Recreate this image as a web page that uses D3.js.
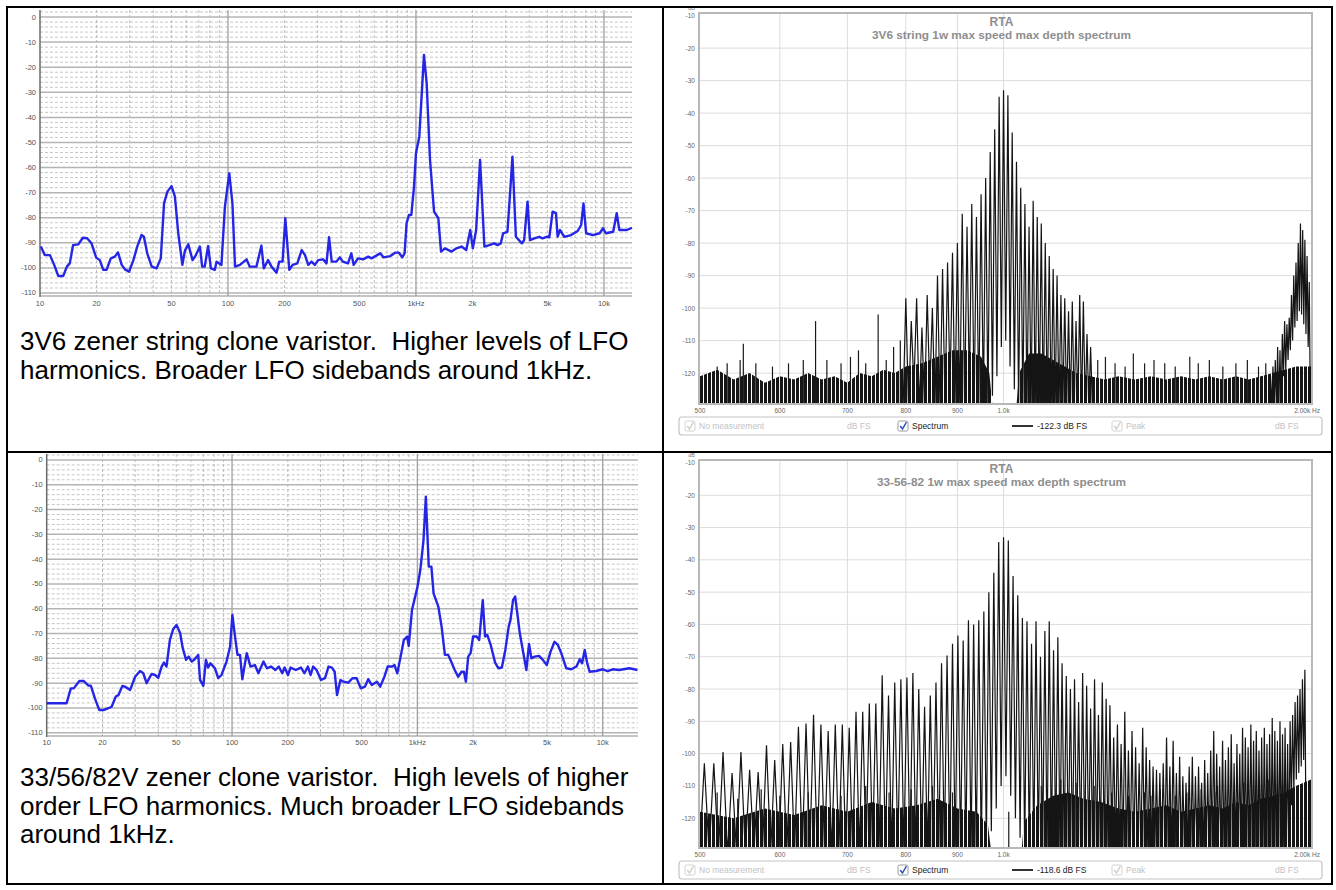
<!DOCTYPE html>
<html>
<head>
<meta charset="utf-8">
<script src="https://cdn.jsdelivr.net/npm/d3@7"></script>
<style>
  body { margin: 0; background: #fff; }
  svg { display: block; font-family: "Liberation Sans", Arial, sans-serif; }
</style>
</head>
<body>
<svg id="page" width="1336" height="890"></svg>
<script>
// ---- left column: blue log-frequency spectra, [Hz, dB] ----
const zener3v6 = [[10.1,-91.5],[10.6,-94.9],[11.3,-94.9],[12,-99.5],[12.5,-103.2],[13.3,-103.2],[13.9,-99.5],[14.4,-98.2],[15,-90.9],[16,-90.6],[16.9,-88],[17.8,-88.2],[18.8,-90.2],[19.9,-95.9],[20.8,-96.9],[21.7,-100.8],[22.6,-100.8],[23.8,-96.2],[25,-95.5],[26,-93.8],[27.2,-98.8],[28.3,-100.6],[29.8,-101.5],[31.4,-96.9],[32.9,-91.5],[34.7,-86.9],[35.7,-87.6],[37.2,-94.2],[39.3,-99.5],[41.7,-100.2],[43.9,-96.2],[45.7,-74.3],[47.6,-69.6],[50.1,-67.4],[52.2,-71.6],[54.4,-86.2],[57.2,-98.8],[59,-93.1],[61.5,-90.6],[64.8,-96.9],[67.5,-94.9],[70.9,-91.5],[72.9,-99.5],[75.2,-99.5],[78.4,-91.3],[81.1,-100.2],[85.1,-100.8],[86.9,-97.5],[92.3,-98.8],[96.3,-75.6],[101.6,-62.3],[105.6,-74.3],[109,-99.5],[115.8,-98.8],[125.6,-96.6],[130.6,-99.5],[141.7,-99.5],[150.6,-91.1],[155,-100.2],[163.4,-96.9],[170.4,-99.5],[181.3,-101.9],[187.2,-97.5],[195.2,-97.5],[201.8,-80.2],[211.9,-100.8],[220.9,-98.8],[233.8,-98.2],[246.7,-92.9],[256.8,-94.9],[267.3,-98.8],[278.4,-97.5],[289.9,-98.8],[301.8,-96.9],[320.9,-96.6],[334.2,-98.2],[344.9,-87.8],[356.3,-97.5],[377.6,-97.5],[393.2,-95.8],[408.5,-97.5],[434.9,-98.2],[453.1,-94.2],[466.3,-98.8],[491.5,-96.2],[523.2,-96.6],[556.8,-95.5],[580.5,-96.2],[645.1,-94.2],[672.3,-95.8],[730.6,-95.3],[777.5,-93.9],[810.6,-93.9],[845.2,-95.8],[869.8,-94.2],[891.5,-82.2],[917.5,-78.9],[944.9,-78.9],[976.4,-67.6],[1000,-54.3],[1041.6,-47.7],[1103,-15.1],[1140,-26.4],[1188,-57],[1248,-77.6],[1315,-80.2],[1359,-93.5],[1426,-92.2],[1547,-93.5],[1643,-92.2],[1745,-91.5],[1852,-92.9],[1944,-84.9],[2007,-92.2],[2090,-84.9],[2193,-57],[2312,-91.5],[2455,-90.9],[2605,-90.2],[2714,-90.9],[2827,-90.2],[2909,-86.2],[3067,-85.6],[3158,-71.6],[3260,-55.7],[3400,-87.6],[3659,-90.2],[3763,-88.9],[3922,-73.6],[4040,-88.9],[4259,-88.2],[4527,-87.6],[4716,-88.2],[4953,-87.6],[5120,-87.8],[5332,-77.6],[5558,-78.2],[5667,-87.6],[5836,-84.9],[6155,-87.6],[6683,-86.9],[7252,-85.3],[7563,-82.9],[7782,-74.3],[8040,-86.2],[8730,-86.9],[9488,-86.2],[9890,-84.2],[10230,-86.2],[11200,-85.6],[11690,-78.2],[12080,-84.9],[13240,-84.9],[14100,-84]];

const zener335682 = [[10,-98.1],[12.8,-98.1],[13.5,-92.1],[14,-92.1],[15,-89.1],[15.8,-89.1],[16.8,-91],[17.3,-91],[18.2,-96.1],[19.2,-100.8],[20.4,-100.8],[21.5,-100.1],[22.4,-99.5],[23.6,-95.4],[24.4,-94.8],[25.6,-91.1],[26.4,-91.4],[28.2,-92.7],[30,-87.4],[31.9,-85.1],[33.2,-86],[34.6,-90],[36.8,-86.3],[38.4,-86.7],[40,-87.8],[41.7,-83.3],[42.9,-81.7],[44.3,-83.3],[46.2,-72.6],[48.1,-68.3],[50.2,-66.5],[52.5,-69.9],[54.2,-75.9],[56.5,-80.6],[58.3,-79.3],[60.6,-81.3],[62.5,-80.6],[65.7,-78.6],[67.2,-88.7],[70,-91.1],[72.3,-80.6],[74.3,-83.7],[76.4,-82],[80.9,-84],[84.2,-88],[87.7,-86.7],[93.4,-81.3],[97.6,-75.3],[100.4,-62.5],[103.8,-71.2],[107,-78.6],[110.4,-78.6],[113.6,-88.4],[120,-77.9],[125.8,-83.3],[132.9,-82.7],[138.7,-86],[147.8,-81.3],[154.3,-84],[162.1,-83.3],[171.3,-84.7],[178.7,-83.3],[186.5,-86],[192.2,-83.7],[200.3,-86.7],[206.9,-83.7],[220.7,-84.7],[235.5,-83.7],[245.8,-86],[256.6,-83.3],[265.4,-86.7],[273.9,-83.3],[285.7,-84.7],[301.9,-88.7],[317.5,-88],[331.5,-83.3],[345.6,-83.7],[357.9,-85.4],[368.4,-94.8],[384.6,-88.7],[398.7,-89.4],[424,-89.8],[446,-88],[470,-88],[495,-92.1],[521,-91.4],[543,-88.4],[567,-90.7],[605,-89.4],[630,-91.4],[664,-87.4],[691,-83.3],[731,-83.3],[753,-82.7],[779,-86],[812,-79.3],[845,-72.6],[881,-71.2],[898,-75],[935,-60.5],[973,-55.1],[1001,-51.1],[1037,-44.4],[1079,-32.3],[1111,-14.8],[1134,-30.9],[1152,-43],[1190,-43],[1223,-53.8],[1297,-59.1],[1351,-67.2],[1408,-78.6],[1466,-78.6],[1507,-80.6],[1590,-84.7],[1659,-87.4],[1731,-85.4],[1782,-85.4],[1827,-89.4],[1880,-79.3],[1937,-77.9],[1998,-71.2],[2086,-71.2],[2156,-72.6],[2253,-56.5],[2318,-71.2],[2385,-70.6],[2487,-74.6],[2626,-81.7],[2738,-84],[2856,-83.7],[2982,-76.6],[3110,-67.2],[3180,-64.5],[3282,-56.5],[3370,-55.1],[3460,-61.8],[3569,-69.9],[3718,-77.3],[3873,-84.7],[4004,-74.2],[4123,-80],[4290,-79.3],[4530,-79],[4753,-80.6],[4990,-82.7],[5231,-77.3],[5494,-73.3],[5730,-74.6],[5975,-77.9],[6359,-84],[6773,-84.4],[7218,-83.3],[7517,-80.4],[7738,-82],[7997,-76.6],[8232,-81.7],[8500,-85.4],[9217,-85.1],[9995,-84.4],[10630,-85.1],[11310,-84.4],[12290,-84.7],[13920,-84],[15400,-84.7]];

const logTicks = [10, 20, 50, 100, 200, 500, 1000, 2000, 5000, 10000];
const logTickLabels = ["10", "20", "50", "100", "200", "500", "1kHz", "2k", "5k", "10k"];
const dbTicks = [0, -10, -20, -30, -40, -50, -60, -70, -80, -90, -100, -110];

// ---- right column: RTA spectra ----
const rtaTicks = [500, 600, 700, 800, 900, 1000, 2000];
const rtaTickLabels = ["500", "600", "700", "800", "900", "1.0k", "2.00k Hz"];
const rtaDbTicks = [-10, -20, -30, -40, -50, -60, -70, -80, -90, -100, -110, -120];

// 3V6 string: LFO sidebands around the 1 kHz tone
const sbFreq3v6 = [800,810,820,830,840,850,860,870,880,890,900,910,920,930,940,950,960,970,980,990,1000,1010,1020,1030,1040,1050,1060,1070,1080,1090,1100,1110,1120,1130,1140,1150,1160,1170,1180,1190,1200,1210,1220];
const sbPeak3v6 = [-97,-104,-97,-106,-96,-100,-90,-88,-86,-83,-80,-71,-75,-68,-72,-65,-60,-52,-45,-35,-33,-34.5,-46,-55,-63,-68,-75,-67,-72,-74,-80,-84,-88,-90,-96,-97,-101,-98,-104,-96,-98,-108,-112];
// sidebands of the 2 kHz harmonic at the right edge
const h2Freq3v6 = [1840,1850,1860,1870,1880,1890,1900,1910,1920,1930,1940,1950,1960,1970,1980,1990,2000,2010];
const h2Peak3v6 = [-121,-118,-116,-112,-113,-108,-104,-105,-103,-96,-90,-86,-80,-74,-76,-79,-84,-92];
const valleys3v6 = [[815,-124],[845,-126],[885,-125],[925,-126],[975,-127],[985,-121],[995,-112],[1005,-110],[1015,-118],[1025,-125],[1895,-121],[1905,-119],[1915,-116],[1925,-113],[1935,-110],[1945,-106],[1955,-104],[1965,-101],[1975,-102],[1985,-105],[1995,-108],[2005,-112]];
const spurs3v6 = [[520,-118],[532,-117],[548,-116],[552,-111],[568,-117],[590,-118],[612,-117],[633,-116],[651,-104],[668,-116],[690,-117],[705,-115],[718,-113],[730,-117],[751,-102],[765,-116],[778,-112],[790,-110],[1240,-116],[1262,-115],[1290,-117],[1320,-118],[1345,-114],[1380,-117],[1410,-116],[1445,-117],[1480,-118],[1530,-115],[1560,-117],[1600,-116],[1650,-118],[1700,-117],[1745,-116],[1790,-118],[1820,-117]];
const floor3v6 = [[500,-121],[520,-119],[540,-122],[560,-120],[580,-123],[600,-121],[620,-122],[640,-120],[660,-122],[680,-121],[700,-123],[720,-120],[740,-121],[760,-119],[780,-120],[800,-118],[830,-117],[860,-115],[890,-113],[920,-113],[950,-115],[968,-120],[975,-130],[1030,-130],[1036,-120],[1060,-114],[1090,-114],[1120,-116],[1150,-118],[1180,-120],[1220,-121],[1260,-122],[1300,-121],[1350,-122],[1400,-121],[1450,-122],[1500,-121],[1550,-122],[1600,-121],[1650,-122],[1700,-121],[1750,-122],[1800,-121],[1850,-120],[1900,-119],[1950,-118],[2018,-118]];

// 33/56/82V: much broader sideband family
const sbFreq335682 = [505,516,527,538,549,560,571,582,593,604,615,626,637,648,659,670,681,692,703,714,725,736,747,758,769,780,791,802,813,824,835,846,857,868,879,890,901,912,923,934,945,956,967,978,989,1000,1011,1022,1033,1044,1055,1066,1077,1088,1099,1110,1121,1132,1143,1154,1165,1176,1187,1198,1209,1220,1231,1242,1253,1264,1275,1286,1297,1308,1319,1330,1341,1352,1363,1374,1385,1396,1407,1418,1429,1440,1451,1462,1473,1484,1495,1506,1517,1528,1539,1550,1561,1572,1583,1594,1605,1616,1627,1638,1649,1660,1671,1682,1693,1704,1715,1726,1737,1748,1759,1770,1781,1792,1803,1814,1825,1836,1847,1858,1869,1880,1891,1902,1913,1924,1935,1946,1957,1968,1979,1990];
const sbPeak335682 = [-103,-103,-99.5,-106,-99.5,-105,-105.7,-97.4,-102,-97,-96.4,-91.7,-90.7,-88,-91,-93,-91,-91,-92,-87,-87,-84.5,-84.5,-75.7,-82,-78,-77,-76.4,-75,-80,-85.5,-82,-78,-72,-69.6,-66,-63.4,-65,-58.7,-60,-58.7,-56,-50,-44,-34.5,-33,-34,-45,-51,-58,-59,-66,-59,-70,-62,-59,-68,-64,-72,-76,-80,-77,-84,-75,-79,-86,-77,-88,-78,-83,-85,-95,-91,-97,-87,-99,-93,-98,-103,-92,-98,-102,-104,-105,-106,-103,-95,-104,-96,-106,-101,-107,-109,-104,-101,-107,-104,-109,-102,-106,-99,-93,-100,-104,-96,-102,-98,-94,-103,-97,-100,-92,-95,-98,-91,-96,-93,-99,-95,-92,-97,-94,-89,-93,-96,-90,-94,-92,-97,-90,-88,-84,-82,-80,-77,-74];
const valleys335682 = [[961.5,-128],[972.5,-124],[983.5,-117],[994.5,-110],[1005.5,-107],[1016.5,-113],[1027.5,-120],[1038.5,-126],[1929.5,-116],[1940.5,-112],[1951.5,-108],[1962.5,-106],[1973.5,-104],[1984.5,-102]];
const spurs335682 = [[520,-112],[545,-114],[575,-111],[600,-113],[640,-112],[690,-113],[730,-110],[770,-112],[810,-111],[850,-110],[890,-112],[1012,-118],[1090,-110],[1140,-108],[1180,-109],[1230,-110],[1280,-112],[1330,-113],[1380,-112],[1400,-113],[1430,-111],[1480,-113],[1520,-112],[1570,-111],[1620,-112],[1630,-110],[1680,-111],[1730,-109],[1780,-110],[1830,-108]];
const floor335682 = [[500,-118],[540,-120],[580,-117],[620,-119],[660,-116],[700,-118],[740,-115],[780,-117],[820,-116],[860,-114],[900,-117],[940,-118],[965,-122],[972,-130],[1042,-130],[1048,-121],[1080,-116],[1120,-113],[1160,-112],[1200,-114],[1250,-115],[1300,-117],[1350,-118],[1400,-117],[1450,-116],[1500,-118],[1550,-117],[1600,-116],[1650,-117],[1700,-115],[1750,-116],[1800,-114],[1850,-113],[1900,-112],[1950,-110],[2018,-108]];

// the double space after "varistor." is kept with a no-break space
const caption3v6 = ["3V6 zener string clone varistor.\u00a0 Higher levels of LFO", "harmonics. Broader LFO sidebands around 1kHz."];
const caption335682 = ["33/56/82V zener clone varistor.\u00a0 High levels of higher", "order LFO harmonics. Much broader LFO sidebands", "around 1kHz."];

const svg = d3.select("#page");
const defs = svg.append("defs");
// dense noise floor is drawn as a fine vertical hatch
defs.append("pattern").attr("id", "floorHatch")
    .attr("width", 4).attr("height", 6).attr("patternUnits", "userSpaceOnUse")
    .append("rect").attr("width", 3).attr("height", 6).attr("fill", "#161616");

function drawLogChart(cfg, data) {
    const g = svg.append("g");
    const x = d3.scaleLog().domain([10, cfg.fMax]).range([cfg.x0, cfg.x1]);
    const y = d3.scaleLinear().domain([cfg.dbBottom, cfg.dbTop]).range([cfg.bottom, cfg.top]);

    // horizontal grid: dashed every 2 dB, solid every 10 dB
    const minorDb = d3.range(2, -112, -2).filter(v => v % 10 !== 0 && y(v) > cfg.top);
    g.selectAll(".hmin").data(minorDb).join("line")
        .attr("x1", cfg.x0).attr("x2", cfg.x1)
        .attr("y1", d => y(d)).attr("y2", d => y(d))
        .attr("stroke", "#c6c6c6").attr("stroke-dasharray", "3,2");
    g.selectAll(".hmaj").data(dbTicks).join("line")
        .attr("x1", cfg.x0).attr("x2", cfg.x1)
        .attr("y1", d => y(d)).attr("y2", d => y(d))
        .attr("stroke", "#b4b4b4").attr("stroke-width", 1.5);

    // vertical grid: decades solid, others dashed
    let minorF = [];
    [10, 100, 1000, 10000].forEach(dec => {
        for (let m = 2; m <= 9; m++) if (dec * m < cfg.fMax) minorF.push(dec * m);
    });
    g.selectAll(".vmin").data(minorF).join("line")
        .attr("x1", d => x(d)).attr("x2", d => x(d))
        .attr("y1", cfg.top).attr("y2", cfg.bottom)
        .attr("stroke", "#bdbdbd").attr("stroke-dasharray", "3,2");
    g.selectAll(".vmaj").data([100, 1000, 10000]).join("line")
        .attr("x1", d => x(d)).attr("x2", d => x(d))
        .attr("y1", cfg.top).attr("y2", cfg.bottom)
        .attr("stroke", "#a0a0a0").attr("stroke-width", 1.3);

    // axes
    g.append("line").attr("x1", cfg.x0).attr("x2", cfg.x0).attr("y1", cfg.top).attr("y2", cfg.bottom + 1)
        .attr("stroke", "#6a6a6a").attr("stroke-width", 1.5);
    g.append("line").attr("x1", cfg.x0).attr("x2", cfg.x1).attr("y1", cfg.bottom).attr("y2", cfg.bottom)
        .attr("stroke", "#8a8a8a").attr("stroke-width", 1.2);

    g.selectAll(".ylab").data(dbTicks).join("text")
        .attr("x", cfg.x0 - 4).attr("y", d => y(d) + 2.5)
        .attr("text-anchor", "end").attr("font-size", 7.5).attr("fill", "#555")
        .text(d => d);
    g.selectAll(".xlab").data(logTicks).join("text")
        .attr("x", d => x(d)).attr("y", cfg.labelY)
        .attr("text-anchor", "middle").attr("font-size", 7.5).attr("fill", "#555")
        .text((d, i) => logTickLabels[i]);

    const line = d3.line().x(d => x(d[0])).y(d => y(d[1]));
    g.append("path").datum(data)
        .attr("d", line)
        .attr("fill", "none").attr("stroke", "#2525e6").attr("stroke-width", 2.4)
        .attr("stroke-linejoin", "round");
}

// peaks joined through the valleys between them, like the analyser trace
function spikePoints(freqs, peaks, valleys, base) {
    const step = freqs[1] - freqs[0];
    let pts = [[freqs[0] - step / 2, base]];
    freqs.forEach((f, i) => {
        pts.push([f, peaks[i]]);
        if (i < freqs.length - 1) {
            const mid = (f + freqs[i + 1]) / 2;
            const v = valleys.find(d => Math.abs(d[0] - mid) < 3);
            pts.push([mid, v ? v[1] : base]);
        }
    });
    pts.push([freqs[freqs.length - 1] + step / 2, base]);
    return pts;
}

function drawRta(cfg) {
    const g = svg.append("g");
    const x = d3.scaleLog().domain([500, 2018]).range([cfg.x0, cfg.x1]);
    const y = d3.scaleLinear().domain([cfg.dbBottom, cfg.dbTop]).range([cfg.bottom, cfg.top]);
    const base = cfg.dbBottom - 2;

    defs.append("clipPath").attr("id", cfg.id + "clip")
        .append("rect").attr("x", cfg.x0).attr("y", cfg.top)
        .attr("width", cfg.x1 - cfg.x0).attr("height", cfg.bottom - cfg.top);

    g.selectAll(".hg").data(rtaDbTicks.slice(1)).join("line")
        .attr("x1", cfg.x0).attr("x2", cfg.x1)
        .attr("y1", d => y(d)).attr("y2", d => y(d))
        .attr("stroke", "#dcdcdc");
    g.selectAll(".vg").data(rtaTicks.slice(1, 6)).join("line")
        .attr("x1", d => x(d)).attr("x2", d => x(d))
        .attr("y1", cfg.top).attr("y2", cfg.bottom)
        .attr("stroke", "#dcdcdc");

    const plot = g.append("g").attr("clip-path", "url(#" + cfg.id + "clip)");
    const area = d3.area().x(d => x(d[0])).y0(y(base)).y1(d => y(d[1]));
    plot.append("path").datum(cfg.floor).attr("d", area).attr("fill", "url(#floorHatch)");

    plot.selectAll(".spur").data(cfg.spurs).join("line")
        .attr("x1", d => x(d[0])).attr("x2", d => x(d[0]))
        .attr("y1", y(base)).attr("y2", d => y(d[1]))
        .attr("stroke", "#1a1a1a").attr("stroke-width", 1.2);

    const line = d3.line().x(d => x(d[0])).y(d => y(d[1]));
    cfg.clusters.forEach(c => {
        plot.append("path").datum(spikePoints(c.freqs, c.peaks, cfg.valleys, base))
            .attr("d", line).attr("fill", "none")
            .attr("stroke", "#141414").attr("stroke-width", 1.2).attr("stroke-linejoin", "miter");
    });

    // frame
    g.append("rect").attr("x", cfg.x0 - 1).attr("y", cfg.top - 1)
        .attr("width", cfg.x1 - cfg.x0 + 2).attr("height", cfg.bottom - cfg.top + 2)
        .attr("fill", "none").attr("stroke", "#b8b8b8").attr("stroke-width", 2);

    g.append("text").attr("x", cfg.x0 - 5).attr("y", cfg.top - 4)
        .attr("text-anchor", "end").attr("font-size", 5.5).attr("fill", "#777").text("dB");
    g.selectAll(".yl").data(rtaDbTicks).join("text")
        .attr("x", cfg.x0 - 5).attr("y", d => y(d) + 2.5)
        .attr("text-anchor", "end").attr("font-size", 6.5).attr("fill", "#666")
        .text(d => d);
    g.selectAll(".xl").data(rtaTicks).join("text")
        .attr("x", d => x(d)).attr("y", cfg.tickY)
        .attr("text-anchor", "middle")
        .attr("font-size", 6.5).attr("fill", "#666")
        .text((d, i) => rtaTickLabels[i]);

    const cx = (cfg.x0 + cfg.x1) / 2 - 4;
    g.append("text").attr("x", cx).attr("y", cfg.top + 12)
        .attr("text-anchor", "middle").attr("font-size", 12).attr("font-weight", "bold")
        .attr("fill", "#8e8e8e").text("RTA");
    g.append("text").attr("x", cx).attr("y", cfg.top + 25)
        .attr("text-anchor", "middle").attr("font-size", 11.8).attr("font-weight", "bold")
        .attr("fill", "#8e8e8e").text(cfg.title);

    // legend strip
    const ly = cfg.legendY;
    const lg = g.append("g");
    lg.append("rect").attr("x", 679).attr("y", ly).attr("width", 643).attr("height", 18).attr("rx", 3)
        .attr("fill", "#fff").attr("stroke", "#c4c4c4").attr("stroke-width", 1.2);
    const boxes = [{ x: 685, on: false }, { x: 898, on: true }, { x: 1112, on: false }];
    boxes.forEach(b => {
        lg.append("rect").attr("x", b.x).attr("y", ly + 4).attr("width", 10).attr("height", 10).attr("rx", 1.5)
            .attr("fill", "#fff").attr("stroke", b.on ? "#9a9a9a" : "#d2d2d2");
        lg.append("path").attr("d", `M${b.x + 2.2},${ly + 9} L${b.x + 4.5},${ly + 12} L${b.x + 8.5},${ly + 5}`)
            .attr("fill", "none").attr("stroke", b.on ? "#2d4fb8" : "#cfcfcf").attr("stroke-width", 1.5);
    });
    const items = [
        { x: 699, t: "No measurement", c: "#c2c2c2" },
        { x: 847, t: "dB FS", c: "#c2c2c2" },
        { x: 912, t: "Spectrum", c: "#222" },
        { x: 1037, t: cfg.level, c: "#222" },
        { x: 1126, t: "Peak", c: "#c2c2c2" },
        { x: 1275, t: "dB FS", c: "#c2c2c2" }
    ];
    lg.selectAll(".it").data(items).join("text")
        .attr("x", d => d.x).attr("y", ly + 12)
        .attr("font-size", 8.5).attr("fill", d => d.c).text(d => d.t);
    lg.append("line").attr("x1", 1012).attr("x2", 1033).attr("y1", ly + 9).attr("y2", ly + 9)
        .attr("stroke", "#333").attr("stroke-width", 2);
}

function drawCaption(lines, y0) {
    svg.append("g").selectAll("text").data(lines).join("text")
        .attr("x", 20).attr("y", (d, i) => y0 + i * 28.5)
        .attr("font-size", 26).attr("fill", "#000")
        .text(d => d);
}

drawLogChart({ x0: 40, x1: 632, top: 10, bottom: 296, fMax: 14100, dbTop: 2.8, dbBottom: -111.2, labelY: 306 }, zener3v6);
drawLogChart({ x0: 46.7, x1: 638, top: 454, bottom: 736, fMax: 15500, dbTop: 2.4, dbBottom: -111.3, labelY: 745 }, zener335682);

drawRta({
    id: "rtaA", x0: 700, x1: 1311, top: 14, bottom: 403, dbTop: -9.5, dbBottom: -129.2,
    tickY: 413, legendY: 417, title: "3V6 string 1w max speed max depth spectrum", level: "-122.3 dB FS",
    floor: floor3v6, spurs: spurs3v6, valleys: valleys3v6,
    clusters: [{ freqs: sbFreq3v6, peaks: sbPeak3v6 }, { freqs: h2Freq3v6, peaks: h2Peak3v6 }]
});
drawRta({
    id: "rtaB", x0: 700, x1: 1311, top: 461, bottom: 847, dbTop: -9.4, dbBottom: -128.9,
    tickY: 857, legendY: 861, title: "33-56-82 1w max speed max depth spectrum", level: "-118.6 dB FS",
    floor: floor335682, spurs: spurs335682, valleys: valleys335682,
    clusters: [{ freqs: sbFreq335682, peaks: sbPeak335682 }]
});

drawCaption(caption3v6, 350);
drawCaption(caption335682, 786);

// table rules
const rules = svg.append("g").attr("stroke", "#000").attr("stroke-width", 2);
rules.append("rect").attr("x", 7).attr("y", 7).attr("width", 1325).attr("height", 877).attr("fill", "none");
rules.append("line").attr("x1", 663).attr("x2", 663).attr("y1", 7).attr("y2", 884);
rules.append("line").attr("x1", 7).attr("x2", 1332).attr("y1", 452).attr("y2", 452);
</script>
</body>
</html>
